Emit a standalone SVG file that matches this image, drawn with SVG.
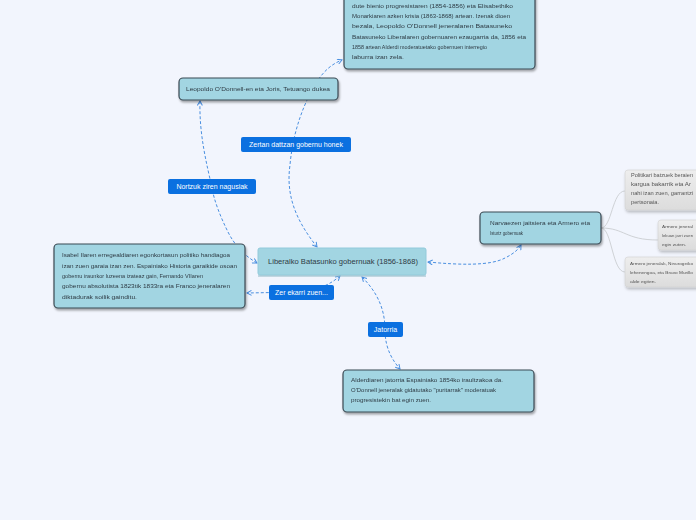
<svg xmlns="http://www.w3.org/2000/svg" width="696" height="520" viewBox="0 0 696 520">
<defs>
<filter id="sh" x="-10%" y="-20%" width="130%" height="160%">
<feDropShadow dx="1" dy="2" stdDeviation="1.2" flood-color="#000" flood-opacity="0.35"/>
</filter>
<filter id="shg" x="-10%" y="-20%" width="130%" height="160%">
<feDropShadow dx="1" dy="2" stdDeviation="1.5" flood-color="#000" flood-opacity="0.25"/>
</filter>
<linearGradient id="gg" x1="0" y1="0" x2="0" y2="1">
<stop offset="0" stop-color="#eeeeee"/>
<stop offset="1" stop-color="#dcdcdc"/>
</linearGradient>
<marker id="ar" viewBox="0 0 6 6" refX="5" refY="3" markerWidth="6" markerHeight="6" markerUnits="userSpaceOnUse" orient="auto-start-reverse">
<path d="M0.5,0.5 L5,3 L0.5,5.5" fill="none" stroke="#4a8fe0" stroke-width="1"/>
</marker>
</defs>
<style>
.bg{fill:#f2f5fd}
.nd{fill:#a2d5e2;stroke:#3b4a54;stroke-width:1.2}
.ctr{fill:#a2d5e2;stroke:#92cadb;stroke-width:1}
.t{font-family:"Liberation Sans",Arial,sans-serif;font-size:6px;fill:#2e3b44}
.tc{font-family:"Liberation Sans",Arial,sans-serif;font-size:7px;fill:#2e3b44}
.lb{fill:#0b70e0}
.lt{font-family:"Liberation Sans",Arial,sans-serif;font-size:7px;fill:#ffffff}
.cn{fill:none;stroke:#4a8fe0;stroke-width:1;stroke-dasharray:3 2}
.gc{fill:none;stroke:#cfd2d6;stroke-width:1}
.gn{fill:url(#gg);stroke:#d2d2d2;stroke-width:0.6}
.gt{font-family:"Liberation Sans",Arial,sans-serif;font-size:5.3px;fill:#555}
.gs{font-family:"Liberation Sans",Arial,sans-serif;font-size:4.4px;fill:#555}
</style>
<rect class="bg" x="0" y="0" width="696" height="520"/>

<g id="connectors">
<path class="cn" d="M317,247 C300,225 285,200 290,165 C293,130 305,100 318,80 C325,70 332,64 342,60" marker-start="url(#ar)" marker-end="url(#ar)"/>
<path class="cn" d="M257,263 C245,256 235,246 228,232 C220,216 214,200 212,188 C207,165 199,135 200,101" marker-start="url(#ar)" marker-end="url(#ar)"/>
<path class="cn" d="M340,276 C332,283 320,290 300,292 L247,293" marker-start="url(#ar)" marker-end="url(#ar)"/>
<path class="cn" d="M362,277 C378,293 385,310 385,330 C385,350 394,362 400,369" marker-start="url(#ar)" marker-end="url(#ar)"/>
<path class="cn" d="M428,262 C460,265 490,266 505,258 C513,254 518,250 521,245" marker-start="url(#ar)" marker-end="url(#ar)"/>
<path class="gc" d="M601,228 C612,228 612,191 625,191"/>
<path class="gc" d="M601,228 C625,228 625,240 658,240"/>
<path class="gc" d="M601,228 C612,228 612,272 625,272"/>
</g>

<g id="node-top" filter="url(#sh)">
<rect class="nd" x="344" y="-10" width="191" height="79" rx="4"/>
<text class="t" x="352" y="8" textLength="161" lengthAdjust="spacingAndGlyphs">dute bienio progresistaren (1854-1856) eta Elisabethiko</text>
<text class="t" x="352" y="18" textLength="158" lengthAdjust="spacingAndGlyphs">Monarkiaren azken krisia (1863-1868) artean. Izenak dioen</text>
<text class="t" x="352" y="28" textLength="160" lengthAdjust="spacingAndGlyphs">bezala, Leopoldo O'Donnell jeneralaren Batasuneko</text>
<text class="t" x="352" y="38.5" textLength="174" lengthAdjust="spacingAndGlyphs">Batasuneko Liberalaren gobernuaren ezaugarria da, 1856 eta</text>
<text class="t" x="352" y="49" textLength="135" lengthAdjust="spacingAndGlyphs">1858 artean Alderdi moderatuetako gobernuen interregio</text>
<text class="t" x="352" y="59" textLength="52" lengthAdjust="spacingAndGlyphs">laburra izan zela.</text>
</g>

<g id="node-leopoldo" filter="url(#sh)">
<rect class="nd" x="179" y="78" width="159" height="22" rx="4"/>
<text class="t" x="186" y="91" textLength="144" lengthAdjust="spacingAndGlyphs">Leopoldo O'Donnell-en eta Joris, Tetuango dukea</text>
</g>

<g id="label-zertan">
<rect class="lb" x="241" y="137" width="110" height="15" rx="2"/>
<text class="lt" x="296" y="147" text-anchor="middle">Zertan dattzan gobernu honek</text>
</g>

<g id="label-nortzuk">
<rect class="lb" x="168" y="179" width="88" height="15" rx="2"/>
<text class="lt" x="212" y="189" text-anchor="middle">Nortzuk ziren nagusiak</text>
</g>

<g id="node-isabel" filter="url(#sh)">
<rect class="nd" x="54" y="244" width="191" height="64" rx="4"/>
<text class="t" x="62" y="257" textLength="168" lengthAdjust="spacingAndGlyphs">Isabel IIaren erregealdiaren egonkortasun politiko handiagoa</text>
<text class="t" x="62" y="267.5" textLength="175" lengthAdjust="spacingAndGlyphs">izan zuen garaia izan zen. Espainiako Historia garaikide osoan</text>
<text class="t" x="62" y="277.5" textLength="141" lengthAdjust="spacingAndGlyphs">gobernu iraunkor luzeena izateaz gain, Fernando VIIaren</text>
<text class="t" x="62" y="288" textLength="168" lengthAdjust="spacingAndGlyphs">gobernu absolutista 1823tik 1833ra eta Franco jeneralaren</text>
<text class="t" x="62" y="299" textLength="75" lengthAdjust="spacingAndGlyphs">diktadurak soilik gainditu.</text>
</g>

<g id="node-center">
<rect class="ctr" x="258" y="248" width="168" height="27" rx="2"/>
<line x1="258" y1="276" x2="426" y2="276" stroke="#8fb9c6" stroke-width="1"/>
<text class="tc" x="268" y="263.5" textLength="150" lengthAdjust="spacingAndGlyphs">Liberalko Batasunko gobernuak (1856-1868)</text>
</g>

<g id="label-zer">
<rect class="lb" x="269" y="285" width="65" height="15" rx="2"/>
<text class="lt" x="301.5" y="295" text-anchor="middle">Zer ekarri zuen...</text>
</g>

<g id="label-jatorria">
<rect class="lb" x="368" y="322" width="35" height="15" rx="2"/>
<text class="lt" x="385.5" y="332" text-anchor="middle">Jatorria</text>
</g>

<g id="node-jatorria" filter="url(#sh)">
<rect class="nd" x="343" y="370" width="191" height="42" rx="4"/>
<text class="t" x="351" y="382" textLength="152" lengthAdjust="spacingAndGlyphs">Alderdiaren jatorria Espainiako 1854ko iraultzakoa da.</text>
<text class="t" x="351" y="391.5" textLength="145" lengthAdjust="spacingAndGlyphs">O'Donnell jeneralak gidatutako "puritarrak" moderatuak</text>
<text class="t" x="351" y="401.5" textLength="80" lengthAdjust="spacingAndGlyphs">progresistekin bat egin zuen.</text>
</g>

<g id="node-narvaez" filter="url(#sh)">
<rect class="nd" x="480" y="212" width="121" height="32" rx="4"/>
<text class="t" x="490" y="225" textLength="100" lengthAdjust="spacingAndGlyphs">Narvaezen jaitsiera eta Armero eta</text>
<text class="t" x="490" y="235" textLength="33" lengthAdjust="spacingAndGlyphs">Isturiz gobernuak</text>
</g>

<g id="node-g1" filter="url(#shg)">
<rect class="gn" x="625" y="170" width="90" height="40" rx="3"/>
<text class="gt" x="631" y="177" textLength="62" lengthAdjust="spacingAndGlyphs">Politikari batzuek beraien</text>
<text class="gt" x="631" y="186" textLength="60" lengthAdjust="spacingAndGlyphs">kargua bakarrik eta Ar</text>
<text class="gt" x="631" y="195" textLength="62" lengthAdjust="spacingAndGlyphs">nahi izan zuen, garrantzi</text>
<text class="gt" x="631" y="204" textLength="28" lengthAdjust="spacingAndGlyphs">pertsonaia.</text>
</g>

<g id="node-g2" filter="url(#shg)">
<rect class="gn" x="658" y="220" width="60" height="30" rx="3"/>
<text class="gs" x="662" y="228" textLength="31" lengthAdjust="spacingAndGlyphs">Armero jeneral</text>
<text class="gs" x="662" y="237" textLength="31" lengthAdjust="spacingAndGlyphs">lekuan jarri zuen</text>
<text class="gs" x="662" y="246" textLength="24" lengthAdjust="spacingAndGlyphs">egin zuten.</text>
</g>

<g id="node-g3" filter="url(#shg)">
<rect class="gn" x="625" y="257" width="90" height="30" rx="3"/>
<text class="gs" x="630" y="265" textLength="63" lengthAdjust="spacingAndGlyphs">Armero jeneralak, Ninurogeiko</text>
<text class="gs" x="630" y="274" textLength="63" lengthAdjust="spacingAndGlyphs">lehenengoa, eta Bravo Murillo</text>
<text class="gs" x="630" y="283" textLength="26" lengthAdjust="spacingAndGlyphs">alde egiten.</text>
</g>
</svg>
